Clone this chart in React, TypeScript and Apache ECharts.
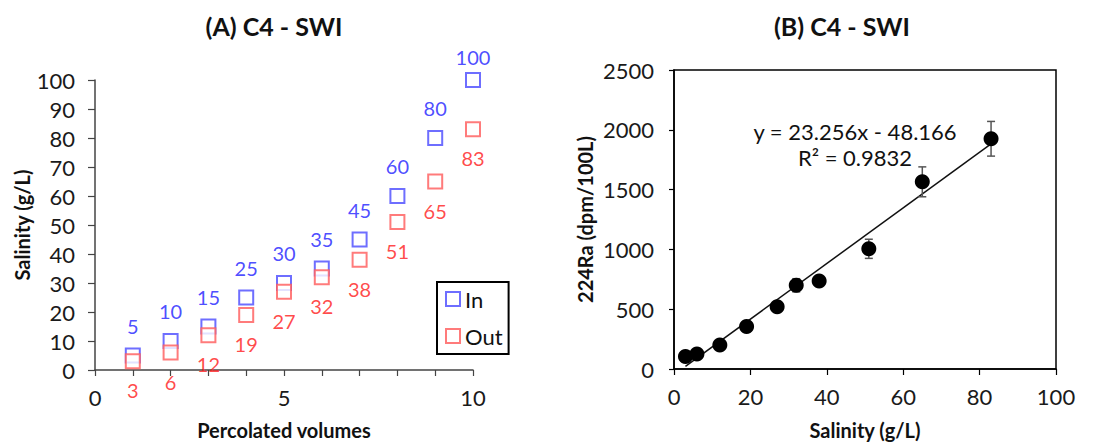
import React, { useEffect, useRef } from "react";
import * as echarts from "echarts";

// Panel A: salinity of inflow / outflow per percolated volume
const volumes = [1, 2, 3, 4, 5, 6, 7, 8, 9, 10];
const salinityIn = [5, 10, 15, 25, 30, 35, 45, 60, 80, 100];
const salinityOut = [3, 6, 12, 19, 27, 32, 38, 51, 65, 83];

// Panel B: 224Ra activity versus outflow salinity
const ra224 = [105, 125, 200, 355, 520, 700, 735, 1005, 1565, 1925];
const ra224Err = [15, 20, 25, 30, 35, 55, 40, 80, 125, 145];

// Linear fit reported on panel B
const fitSlope = 23.256;
const fitIntercept = -48.166;
const fitR2 = 0.9832;

const FONT = "Lato";
const BLUE_MARK = "#4a4aff";
const BLUE_TEXT = "#2020ff";
const RED_MARK = "#ff5a5a";
const RED_TEXT = "#ff1a1a";

export default function App() {
  const ref = useRef<HTMLDivElement>(null);

  useEffect(() => {
    if (!ref.current) return;
    const chart = echarts.init(ref.current, null, { renderer: "svg" });

    const inData = volumes.map((v, i) => {
      const item: any = { value: [v, salinityIn[i]] };
      if (salinityIn[i] >= 100) item.label = { distance: 5 };
      return item;
    });
    const outData = volumes.map((v, i) => [v, salinityOut[i]]);
    const raData = salinityOut.map((s, i) => [s, ra224[i]]);
    const errData = salinityOut.map((s, i) => [s, ra224[i], ra224Err[i]]);
    const xFit0 = salinityOut[0];
    const xFit1 = salinityOut[salinityOut.length - 1];
    const fitData = [
      [xFit0, fitSlope * xFit0 + fitIntercept],
      [xFit1, fitSlope * xFit1 + fitIntercept],
    ];

    const tickText = { fontFamily: FONT, fontSize: 22, color: "#1a1a1a" };
    const nameText = { fontFamily: FONT, fontSize: 20, fontWeight: "bold" as const, color: "#111" };
    const titleText = { fontFamily: FONT, fontSize: 25, fontWeight: "bold" as const, color: "#111" };
    const eqStyle = {
      fontFamily: FONT,
      fontSize: 22,
      fill: "#111",
      align: "center" as const,
      verticalAlign: "middle" as const,
    };

    chart.setOption({
      animation: false,
      textStyle: { fontFamily: FONT },
      title: [
        { text: "(A) C4 - SWI", left: 269, top: 8, textAlign: "center", textStyle: titleText },
        { text: "(B) C4 - SWI", left: 837, top: 8, textAlign: "center", textStyle: titleText },
      ],
      legend: {
        data: [
          { name: "In", icon: "emptyRect" },
          { name: "Out", icon: "emptyRect" },
        ],
        orient: "vertical",
        left: 437,
        top: 282,
        padding: [6, 6, 7, 8],
        itemGap: 15,
        itemWidth: 14,
        itemHeight: 14,
        borderColor: "#000",
        borderWidth: 2,
        textStyle: { fontFamily: FONT, fontSize: 22, color: "#111" },
      },
      grid: [
        { left: 95, top: 80, width: 378, height: 291 },
        {
          left: 674,
          top: 70,
          width: 382,
          height: 300,
          show: true,
          borderColor: "#000",
          borderWidth: 1.5,
          backgroundColor: "transparent",
        },
      ],
      xAxis: [
        {
          gridIndex: 0,
          type: "value",
          min: 0,
          max: 10,
          interval: 1,
          name: "Percolated volumes",
          nameLocation: "middle",
          nameGap: 50,
          nameTextStyle: nameText,
          axisLine: { show: true, lineStyle: { color: "#444", width: 1.5 } },
          axisTick: { show: true, length: 6, lineStyle: { color: "#444", width: 1.2 } },
          axisLabel: {
            ...tickText,
            margin: 16,
            formatter: (v: number) => (v % 5 === 0 ? String(v) : ""),
          },
          splitLine: { show: false },
        },
        {
          gridIndex: 1,
          type: "value",
          min: 0,
          max: 100,
          interval: 20,
          name: "Salinity (g/L)",
          nameLocation: "middle",
          nameGap: 51,
          nameTextStyle: nameText,
          axisLine: { show: true, lineStyle: { color: "#000", width: 1.5 } },
          axisTick: { show: true, length: 6, lineStyle: { color: "#000", width: 1.2 } },
          axisLabel: { ...tickText, margin: 16, formatter: (v: number) => String(v) },
          splitLine: { show: false },
        },
      ],
      yAxis: [
        {
          gridIndex: 0,
          type: "value",
          min: 0,
          max: 100,
          interval: 10,
          name: "Salinity (g/L)",
          nameLocation: "middle",
          nameGap: 63,
          nameTextStyle: nameText,
          axisLine: { show: true, lineStyle: { color: "#444", width: 1.5 } },
          axisTick: { show: true, length: 7, lineStyle: { color: "#444", width: 1.2 } },
          axisLabel: { ...tickText, margin: 20, formatter: (v: number) => String(v) },
          splitLine: { show: false },
        },
        {
          gridIndex: 1,
          type: "value",
          min: 0,
          max: 2500,
          interval: 500,
          name: "224Ra (dpm/100L)",
          nameLocation: "middle",
          nameGap: 79,
          nameTextStyle: nameText,
          axisLine: { show: true, lineStyle: { color: "#000", width: 1.5 } },
          axisTick: { show: true, length: 5, lineStyle: { color: "#000", width: 1.2 } },
          axisLabel: { ...tickText, margin: 20, formatter: (v: number) => String(v) },
          splitLine: { show: false },
        },
      ],
      series: [
        {
          name: "In",
          type: "scatter",
          xAxisIndex: 0,
          yAxisIndex: 0,
          symbol: "emptyRect",
          symbolSize: 14,
          clip: false,
          itemStyle: { color: BLUE_MARK, borderWidth: 1.5 },
          label: {
            show: true,
            position: "top",
            distance: 12,
            fontFamily: FONT,
            fontSize: 20,
            color: BLUE_TEXT,
            formatter: (p: any) => String(p.value[1]),
          },
          data: inData,
        },
        {
          name: "Out",
          type: "scatter",
          xAxisIndex: 0,
          yAxisIndex: 0,
          symbol: "emptyRect",
          symbolSize: 14,
          clip: false,
          itemStyle: { color: RED_MARK, borderWidth: 1.5 },
          label: {
            show: true,
            position: "bottom",
            distance: 11,
            fontFamily: FONT,
            fontSize: 20,
            color: RED_TEXT,
            formatter: (p: any) => String(p.value[1]),
          },
          data: outData,
        },
        {
          name: "fit",
          type: "line",
          xAxisIndex: 1,
          yAxisIndex: 1,
          symbol: "none",
          lineStyle: { color: "#111", width: 1.5 },
          data: fitData,
          z: 2,
        },
        {
          name: "error",
          type: "custom",
          xAxisIndex: 1,
          yAxisIndex: 1,
          z: 3,
          renderItem: (_params: any, api: any) => {
            const x = api.value(0);
            const y = api.value(1);
            const e = api.value(2);
            const top = api.coord([x, y + e]);
            const bot = api.coord([x, y - e]);
            const style = { stroke: "#555", lineWidth: 1.5 };
            const cap = 4;
            return {
              type: "group",
              children: [
                { type: "line", shape: { x1: top[0], y1: top[1], x2: bot[0], y2: bot[1] }, style },
                { type: "line", shape: { x1: top[0] - cap, y1: top[1], x2: top[0] + cap, y2: top[1] }, style },
                { type: "line", shape: { x1: bot[0] - cap, y1: bot[1], x2: bot[0] + cap, y2: bot[1] }, style },
              ],
            };
          },
          data: errData,
        },
        {
          name: "224Ra",
          type: "scatter",
          xAxisIndex: 1,
          yAxisIndex: 1,
          symbol: "circle",
          symbolSize: 15,
          z: 4,
          itemStyle: { color: "#000", opacity: 1 },
          data: raData,
        },
      ],
      graphic: [
        {
          type: "text",
          x: 855,
          y: 131,
          style: { ...eqStyle, text: `y = ${fitSlope}x - ${Math.abs(fitIntercept)}` },
        },
        {
          type: "text",
          x: 855,
          y: 157,
          style: { ...eqStyle, text: `R² = ${fitR2}` },
        },
      ],
    });

    return () => chart.dispose();
  }, []);

  return (
    <div
      ref={ref}
      style={{ position: "fixed", left: 0, top: 0, width: 1108, height: 445, background: "#fff" }}
    />
  );
}
